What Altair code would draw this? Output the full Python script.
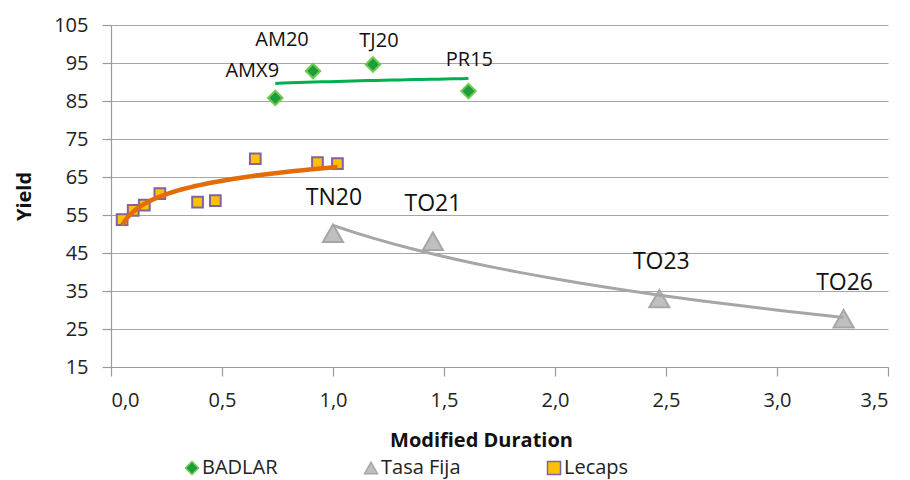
import altair as alt
import pandas as pd

series_order = ["BADLAR", "Tasa Fija", "Lecaps"]

badlar_names = ["AMX9", "AM20", "TJ20", "PR15"]
badlar_x = [0.74, 0.91, 1.18, 1.61]
badlar_y = [85.8, 92.9, 94.6, 87.6]

tasa_names = ["TN20", "TO21", "TO23", "TO26"]
tasa_x = [1.00, 1.45, 2.47, 3.30]
tasa_y = [50.2, 48.1, 33.0, 27.7]

lecaps_x = [0.05, 0.10, 0.15, 0.22, 0.39, 0.47, 0.65, 0.93, 1.02]
lecaps_y = [53.8, 56.2, 57.6, 60.6, 58.4, 58.8, 69.8, 68.8, 68.5]

x_ticks = [0.0, 0.5, 1.0, 1.5, 2.0, 2.5, 3.0, 3.5]
y_ticks = [15, 25, 35, 45, 55, 65, 75, 85, 95, 105]

rows = []
for n, xv, yv in zip(badlar_names, badlar_x, badlar_y):
    rows.append({"series": "BADLAR", "label": n, "x": xv, "y": yv})
for n, xv, yv in zip(tasa_names, tasa_x, tasa_y):
    rows.append({"series": "Tasa Fija", "label": n, "x": xv, "y": yv})
for xv, yv in zip(lecaps_x, lecaps_y):
    rows.append({"series": "Lecaps", "label": "", "x": xv, "y": yv})
df = pd.DataFrame(rows)

FONT = "Open Sans"
W, H = 777, 342

X = alt.X(
    "x:Q",
    scale=alt.Scale(domain=[0, 3.5], nice=False, zero=False),
    axis=alt.Axis(
        values=x_ticks,
        labelExpr="replace(format(datum.value, '.1f'), '.', ',')",
        title="Modified Duration",
        grid=False,
        titleX=370,
        titleY=73,
        titleBaseline="middle",
        titleAlign="center",
        titleAnchor="start",
    ),
)
Y = alt.Y(
    "y:Q",
    scale=alt.Scale(domain=[15, 105], nice=False, zero=False),
    axis=alt.Axis(
        values=y_ticks,
        title="Yield",
        grid=True,
        titleX=-87,
        titleY=171,
        titleBaseline="middle",
        titleAlign="center",
        titleAnchor="start",
    ),
)

fill_enc = alt.Fill(
    "series:N",
    scale=alt.Scale(domain=series_order, range=["#1E9E3A", "#BFBFBF", "#FFC000"]),
    legend=alt.Legend(title=None),
)
stroke_enc = alt.Stroke(
    "series:N",
    scale=alt.Scale(domain=series_order, range=["#6CCB50", "#A6A6A6", "#8064A2"]),
    legend=alt.Legend(title=None),
)
shape_enc = alt.Shape(
    "series:N",
    scale=alt.Scale(domain=series_order, range=["diamond", "triangle-up", "square"]),
    legend=alt.Legend(title=None),
)

base = alt.Chart(df)

point_sizes = {"BADLAR": 210, "Tasa Fija": 400, "Lecaps": 115}
point_layers = []
for s in ["Lecaps", "Tasa Fija", "BADLAR"]:
    point_layers.append(
        base.transform_filter(alt.datum.series == s)
        .mark_point(filled=True, size=point_sizes[s], strokeWidth=2, opacity=1)
        .encode(x=X, y=Y, fill=fill_enc, stroke=stroke_enc, shape=shape_enc)
    )

trend_styles = {"Lecaps": ("#E36C0A", 4.5), "Tasa Fija": ("#A6A6A6", 3), "BADLAR": ("#00B050", 3)}
trend_layers = []
for s, (col, sw) in trend_styles.items():
    trend_layers.append(
        base.transform_filter(alt.datum.series == s)
        .transform_regression("x", "y", method="log")
        .mark_line(color=col, strokeWidth=sw)
        .encode(x=X, y=Y)
    )

label_style = {
    "AMX9": (-23, -27, 20),
    "AM20": (-31, -31, 20),
    "TJ20": (6, -24, 20),
    "PR15": (1, -31, 20),
    "TN20": (1, -35, 23),
    "TO21": (0, -37, 23),
    "TO23": (2, -37, 23),
    "TO26": (1, -36, 23),
}
text_layers = []
for name in badlar_names + tasa_names:
    dx, dy, fs = label_style[name]
    text_layers.append(
        base.transform_filter(alt.datum.label == name)
        .mark_text(dx=dx, dy=dy, fontSize=fs, font=FONT, color="#111111",
                   align="center", baseline="middle")
        .encode(x=X, y=Y, text="label:N")
    )

chart = (
    alt.layer(*point_layers, *trend_layers, *text_layers)
    .properties(
        width=W,
        height=H,
        autosize=alt.AutoSizeParams(type="none"),
        padding={"left": 103, "top": 17, "right": 12, "bottom": 112},
    )
    .configure_view(strokeWidth=0)
    .configure_axis(
        labelFont=FONT,
        labelFontSize=20,
        labelColor="#222222",
        titleFont=FONT,
        titleFontSize=20,
        titleFontWeight="bold",
        titleColor="#111111",
        domainColor="#9A9A9A",
        domainWidth=1.2,
        tickColor="#9A9A9A",
        tickSize=9,
        tickWidth=1.2,
        gridColor="#A6A6A6",
        gridWidth=1.2,
        labelPadding=14,
    )
    .configure_legend(
        orient="none",
        legendX=71,
        legendY=433,
        direction="horizontal",
        labelFont=FONT,
        labelFontSize=20,
        labelColor="#222222",
        symbolSize=170,
        symbolStrokeWidth=1.5,
        labelOffset=0,
        columnPadding=83,
        padding=0,
    )
)

chart.save("out.html", embed_options={"renderer": "svg", "actions": False})
